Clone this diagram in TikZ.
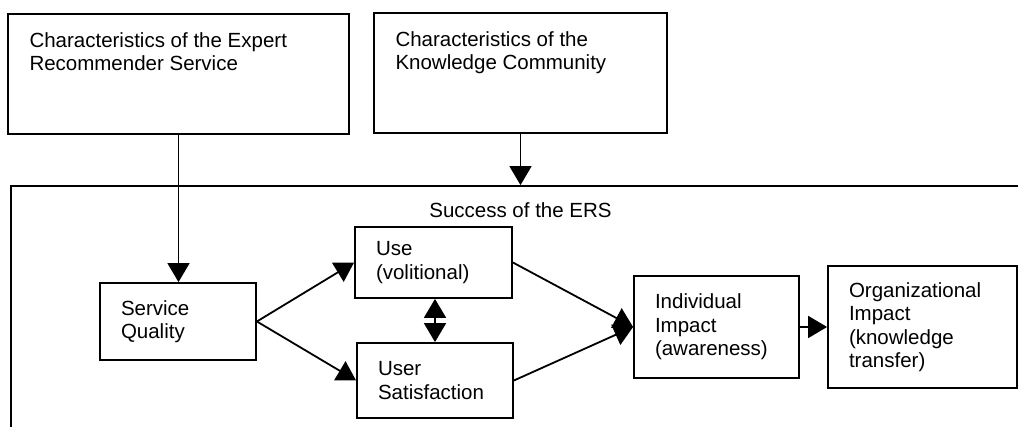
\documentclass[tikz,border=0pt]{standalone}
\usepackage{fontspec}
\setmainfont{Liberation Sans}
\usetikzlibrary{arrows.meta}
\tikzset{
base/.style={draw=black, line width=0.9pt, align=left, inner xsep=10.5pt, inner ysep=0pt, font=\fontsize{10.25}{11.75}\selectfont},
toptext/.style={anchor=north west, align=left, inner xsep=11pt, inner ysep=9.5pt, font=\fontsize{10.25}{11.75}\selectfont},
ersframe/.style={draw=black, line width=0.9pt, inner sep=0pt},
arrow/.style={-{Triangle[length=9.5pt,width=11pt]}, line width=0.9pt},
biarrow/.style={{Triangle[length=9.5pt,width=11pt]}-{Triangle[length=9.5pt,width=11pt]}, line width=0.9pt}
}
\begin{document}
\begin{tikzpicture}[x=0.5pt, y=0.5pt]
\clip (0,0) rectangle (1018,427);
\node[base, minimum width=170.5pt, minimum height=60pt, label={[toptext]north west:Characteristics of the Expert\\Recommender Service}] (ers) at (178.5,353) {};
\node[base, minimum width=146.5pt, minimum height=60pt, label={[toptext]north west:Characteristics of the\\Knowledge Community}] (kc) at (520.5,354) {};
\node[ersframe, minimum width=509.5pt, minimum height=127pt, label={[anchor=north, yshift=-5.1pt, font=\fontsize{10.25}{11.75}\selectfont]north:Success of the ERS}] (success) at (520.5,114) {};
\node[base, text width=57pt, minimum height=38.5pt] (sq) at (178,105.5) {Service\\Quality};
\node[base, text width=57.5pt, minimum height=35.5pt] (use) at (433.5,164.5) {Use\\(volitional)};
\node[base, text width=57pt, minimum height=37.5pt] (us) at (435,46.5) {User\\Satisfaction};
\node[base, text width=61.5pt, minimum height=51pt] (ii) at (716.5,100) {Individual\\Impact\\(awareness)};
\node[base, text width=73.5pt, minimum height=61pt] (oi) at (922.5,100) {Organizational\\Impact\\(knowledge\\transfer)};
\draw[arrow] (ers.south) -- (ers.south |- sq.north);
\draw[arrow] (kc.south) -- (kc.south |- success.north);
\draw[arrow] (sq.east) -- (use.west);
\draw[arrow] (sq.east) -- (us.west);
\draw[biarrow] (use.south -| us.north) -- (us.north);
\draw[arrow] (use.east) -- (ii.west);
\draw[arrow] (us.east) -- (ii.west);
\draw[arrow] (ii.east) -- (oi.west);
\end{tikzpicture}
\end{document}
